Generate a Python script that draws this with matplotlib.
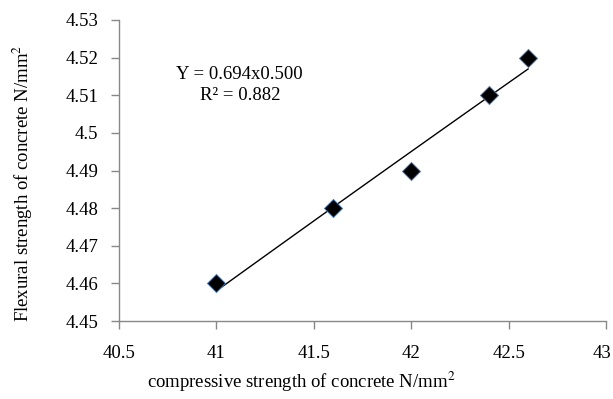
import matplotlib
matplotlib.use("Agg")
import matplotlib.pyplot as plt
import matplotlib.transforms as mtransforms
import numpy as np

plt.rcParams['font.family'] = ['Liberation Serif', 'DejaVu Serif']
plt.rcParams['mathtext.fontset'] = 'stix'

compressive = [41.0, 41.6, 42.0, 42.4, 42.6]
flexural = [4.46, 4.48, 4.49, 4.51, 4.52]
x_ticks = [40.5, 41, 41.5, 42, 42.5, 43]
x_tick_labels = ["40.5", "41", "41.5", "42", "42.5", "43"]
y_ticks = [4.45, 4.46, 4.47, 4.48, 4.49, 4.5, 4.51, 4.52, 4.53]
y_tick_labels = ["4.45", "4.46", "4.47", "4.48", "4.49", "4.5", "4.51", "4.52", "4.53"]

W, H = 613, 399
fig = plt.figure(figsize=(W/100, H/100), dpi=100)
ax = fig.add_axes([119/W, 1 - 321/H, (606-119)/W, (321-20)/H])

# power trendline fitted to the data
b, loga = np.polyfit(np.log(compressive), np.log(flexural), 1)
xs = np.linspace(min(compressive), max(compressive), 100)
ax.plot(xs, np.exp(loga) * xs ** b, color='black', lw=1.0, zorder=2)

ax.plot(compressive, flexural, linestyle='none', marker='D', ms=9.5,
        mfc='black', mec='#4a74a8', mew=0.7, zorder=3)

ax.set_xlim(40.5, 43)
ax.set_ylim(4.45, 4.53)
ax.set_xticks(x_ticks)
ax.set_xticklabels(x_tick_labels)
ax.set_yticks(y_ticks)
ax.set_yticklabels(y_tick_labels)

for s in ['top', 'right']:
    ax.spines[s].set_visible(False)
for s in ['left', 'bottom']:
    ax.spines[s].set_color('#888888')
    ax.spines[s].set_linewidth(1.0)
ax.tick_params(direction='out', length=6, color='#888888', labelsize=13.5,
               labelcolor='black', width=1.0)
ax.tick_params(axis='x', pad=11)
ax.tick_params(axis='y', pad=9)

# nudge the last x tick label so it stays inside the figure edge
last = ax.get_xticklabels()[-1]
last.set_transform(last.get_transform() +
                   mtransforms.ScaledTranslation(-4/100, 0, fig.dpi_scale_trans))

ax.text(0.248, 0.784, "Y = 0.694x0.500\nR\u00b2 = 0.882", transform=ax.transAxes,
        ha='center', va='center', fontsize=13.5, linespacing=1.28)

fig.text(301/W, 1 - 382/H, "compressive strength of concrete N/mm$^2$",
         fontsize=13.5, ha='center', va='center')
fig.text(23/W, 1 - 183/H, "Flexural strength of concrete N/mm$^2$",
         fontsize=13.5, ha='center', va='center', rotation=90)

fig.savefig("out.png", dpi=100, facecolor='white')
